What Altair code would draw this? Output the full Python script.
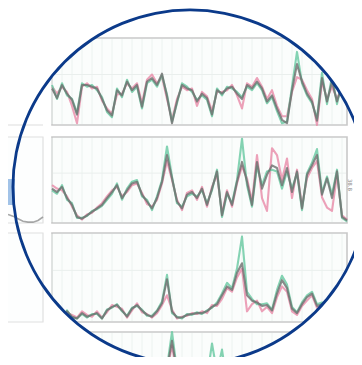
import altair as alt
import pandas as pd
import math

# ---------------- data (0-100 per panel) -------------
idx = list(range(60))

gray1 = [42,31,46,36,29,12,46,46,44,42,30,17,11,40,34,50,40,46,21,50,54,46,59,33,2,27,46,42,40,27,36,31,12,40,36,42,44,36,30,46,42,50,42,27,34,19,6,2,40,70,50,36,27,5,54,27,50,27,46,40]
pink1 = [44,36,44,38,22,2,44,48,42,44,28,19,13,35,36,48,42,48,25,52,58,48,55,30,6,30,44,40,42,22,38,33,16,38,38,40,46,34,19,48,44,54,44,30,40,22,10,10,38,55,52,40,30,0,50,30,44,30,44,42]
green1 = [46,30,48,34,30,14,48,44,46,40,32,15,9,42,32,52,38,44,19,48,52,44,57,35,4,25,48,44,38,29,34,29,10,42,34,44,42,38,32,44,40,48,40,25,32,16,2,4,44,84,48,34,25,8,60,24,56,24,50,38]

gray2 = [40,36,42,29,21,7,5,9,13,17,21,29,36,44,29,38,46,48,33,25,17,29,48,79,52,25,17,33,36,29,40,21,40,60,9,36,21,48,71,48,21,71,40,56,67,64,44,64,36,60,17,56,67,79,33,52,29,60,7,3]
pink2 = [44,40,38,31,19,9,4,10,12,18,23,31,38,42,31,36,44,46,35,22,19,27,46,72,50,27,15,35,38,27,42,19,42,56,11,38,19,46,66,52,25,79,29,14,87,79,50,75,29,62,19,52,64,72,30,18,14,56,9,4]
green2 = [38,34,44,27,23,6,6,8,14,16,20,27,34,46,27,40,48,50,31,27,15,31,50,89,54,23,19,31,34,31,38,23,38,62,7,34,23,50,98,44,19,66,44,60,62,60,40,60,40,58,15,58,70,86,35,54,33,62,6,2]

gray3 = [6,10,6,12,6,4,10,6,8,10,4,13,17,19,13,6,15,19,13,8,6,12,21,48,12,5,5,8,9,10,10,12,17,20,30,40,36,55,66,30,24,22,18,19,13,32,47,38,15,10,20,28,32,18,20,15,10,12,8,6]
pink3 = [8,8,7,10,8,5,12,8,6,12,5,11,19,17,15,5,13,21,11,9,5,10,19,30,14,4,6,7,10,9,12,10,19,18,26,38,34,50,60,12,20,24,12,17,10,28,40,34,12,8,18,24,30,16,18,13,9,10,7,5]
green3 = [5,11,5,13,5,4,9,5,9,9,4,14,16,20,12,7,16,18,14,7,7,13,23,53,10,6,4,9,8,11,9,13,16,22,32,44,38,60,96,34,26,20,20,21,14,36,52,42,17,11,22,30,34,20,22,16,11,13,9,7]

gray4 = [30,34,28,36,32,26,38,34,30,36,28,40,44,38,34,30,42,46,38,34,36,44,50,58,90,54,40,36,42,48,40,46,70,52,64,44,40,46,52,48,42,50,56,48,44,52,46,40,48,54,46,42,50,44,38,46,40,36,42,38]
pink4 = [28,32,30,34,30,28,36,32,32,34,30,38,42,40,32,28,40,44,40,32,34,42,48,55,85,50,42,34,40,46,42,44,60,50,58,46,38,44,50,46,44,48,54,46,42,50,44,42,46,52,44,40,48,42,40,44,38,34,40,36]
green4 = [32,36,26,38,34,24,40,36,28,38,26,42,46,36,36,32,44,48,36,36,38,46,52,60,100,56,38,38,44,50,38,48,87,54,80,42,42,48,54,50,40,52,58,50,46,54,48,38,50,56,48,44,52,46,36,48,42,38,44,40]

left_idx = list(range(8))
left_gray2 = [10, 8, 5, 2, 1, 1, 3, 7]

grid_idx = list(range(0, 60, 2))
hgrid_vals = [58]
strip_label = "38.8"

# ---------------- layout (screen pixels; view starts at 8,8) -------------
OFF = 8
PX0, PX1 = 52, 347
bands = [(38, 125), (137, 223), (233, 322), (332, 420)]
CX, CY, R = 190, 187, 177

GRAY, PINK, GREEN = "#6e6e6e", "#e98aa8", "#66c8a0"
dummy = pd.DataFrame({"d": [0]})

series = [
    (gray1, pink1, green1),
    (gray2, pink2, green2),
    (gray3, pink3, green3),
    (gray4, pink4, green4),
]

bg_layers, grid_layers, line_layers = [], [], []
for (top, bot), (g, p, gr) in zip(bands, series):
    xs = alt.Scale(domain=[0, 59], range=[PX0 - OFF, PX1 - OFF], nice=False, zero=False)
    ys = alt.Scale(domain=[0, 100], range=[bot - OFF, top - OFF], nice=False, zero=False)
    bg_layers.append(
        alt.Chart(dummy).mark_rect(fill="#fbfdfc", stroke="#c9c9c9", strokeWidth=1.6).encode(
            x=alt.value(PX0 - OFF), x2=alt.value(PX1 - OFF),
            y=alt.value(top - OFF), y2=alt.value(bot - OFF))
    )
    grid_layers.append(
        alt.Chart(pd.DataFrame({"g": grid_idx})).mark_rule(color="#ecf3f0", strokeWidth=1).encode(
            x=alt.X("g:Q", scale=xs, axis=None),
            y=alt.value(top - OFF + 1), y2=alt.value(bot - OFF - 1))
    )
    grid_layers.append(
        alt.Chart(pd.DataFrame({"h": hgrid_vals})).mark_rule(color="#eaefed", strokeWidth=1).encode(
            y=alt.Y("h:Q", scale=ys, axis=None),
            x=alt.value(PX0 - OFF + 1), x2=alt.value(PX1 - OFF - 1))
    )
    for vals, col, op in ((p, PINK, 0.8), (gr, GREEN, 0.8), (g, GRAY, 0.8)):
        df = pd.DataFrame({"i": idx, "v": vals})
        line_layers.append(
            alt.Chart(df).mark_line(color=col, strokeWidth=2.1, opacity=op, strokeJoin="round").encode(
                x=alt.X("i:Q", scale=xs, axis=None),
                y=alt.Y("v:Q", scale=ys, axis=None))
        )

strip = alt.Chart(dummy).mark_text(text=strip_label, angle=90, fontSize=5.5, color="#8a8a8a",
                                   font="DejaVu Sans", baseline="middle").encode(
    x=alt.value(350 - OFF), y=alt.value(185 - OFF))

ring = alt.Chart(dummy).mark_arc(innerRadius=R, outerRadius=420, theta=0, theta2=2 * math.pi,
                                 fill="white", strokeWidth=0).encode(
    x=alt.value(CX - OFF), y=alt.value(CY - OFF))

# left column (faint)
LX0, LX1 = 0, 43
left_layers = [
    alt.Chart(dummy).mark_rule(color="#dddddd", strokeWidth=1.2).encode(
        x=alt.value(LX0 - OFF), x2=alt.value(LX1 - OFF), y=alt.value(125 - OFF)),
]
for top, bot in bands[1:3]:
    left_layers.append(
        alt.Chart(dummy).mark_rect(fill="#fdfefe", stroke="#e0e0e0", strokeWidth=1.2).encode(
            x=alt.value(LX0 - OFF), x2=alt.value(LX1 - OFF),
            y=alt.value(top - OFF), y2=alt.value(bot - OFF))
    )
lxs = alt.Scale(domain=[0, 7], range=[8 - OFF, 43 - OFF], nice=False, zero=False)
lys = alt.Scale(domain=[0, 100], range=[223 - OFF, 137 - OFF], nice=False, zero=False)
left_layers.append(
    alt.Chart(pd.DataFrame({"i": left_idx, "v": left_gray2})).mark_line(
        color="#8a8a8a", strokeWidth=1.6, opacity=0.75).encode(
        x=alt.X("i:Q", scale=lxs, axis=None), y=alt.Y("v:Q", scale=lys, axis=None))
)

bar = alt.Chart(dummy).mark_rect(fill="#a2c3e8").encode(
    x=alt.value(0 - OFF), x2=alt.value(CX - R + 2 - OFF),
    y=alt.value(179 - OFF), y2=alt.value(205 - OFF))

outline = alt.Chart(dummy).mark_arc(innerRadius=R - 1.3, outerRadius=R + 1.5, theta=0,
                                    theta2=2 * math.pi, fill="#0b3a8a").encode(
    x=alt.value(CX - OFF), y=alt.value(CY - OFF))

chart = alt.layer(
    *bg_layers, *grid_layers, *line_layers, strip, ring, *left_layers, bar, outline
).resolve_scale(x="independent", y="independent").properties(
    width=346, height=349, autosize=alt.AutoSizeParams(type="none"), padding=0,
    background="white"
).configure_view(stroke=None)

chart.save("out.html", embed_options={"renderer": "svg", "actions": False})
